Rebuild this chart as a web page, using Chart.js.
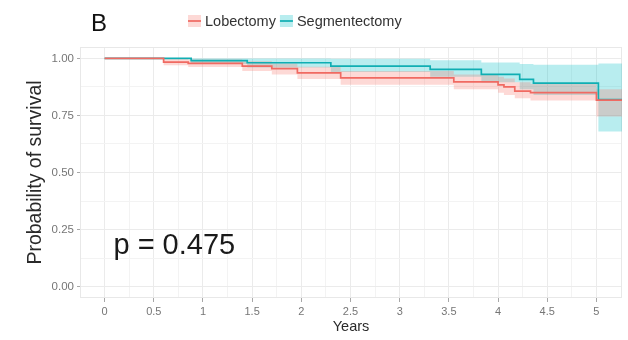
<!DOCTYPE html>
<html>
<head>
<meta charset="utf-8">
<script src="https://cdn.jsdelivr.net/npm/chart.js@4/dist/chart.umd.min.js"></script>
<style>
  html, body { margin: 0; padding: 0; background: #ffffff; }
  #km { display: block; }
</style>
</head>
<body>
<canvas id="km" width="628" height="340"></canvas>
<script>
// Kaplan-Meier estimates with 95% confidence bands, by resection type
const seriesNames = ['Lobectomy', 'Segmentectomy'];

const lobTime  = [0, 0.60, 0.85, 1.40, 1.70, 1.96, 2.40, 3.55, 4.00, 4.06, 4.17, 4.33, 5.00, 5.26];
const lobSurv  = [1, 0.984, 0.978, 0.966, 0.955, 0.937, 0.915, 0.897, 0.884, 0.875, 0.857, 0.850, 0.817, 0.817];
const lobLower = [1, 0.970, 0.962, 0.945, 0.930, 0.910, 0.885, 0.865, 0.850, 0.840, 0.825, 0.815, 0.745, 0.745];
const lobUpper = [1, 0.998, 0.995, 0.988, 0.978, 0.963, 0.945, 0.930, 0.920, 0.912, 0.895, 0.888, 0.865, 0.865];

const segTime  = [0, 0.88, 1.45, 2.30, 3.31, 3.83, 4.22, 4.36, 5.02, 5.26];
const segSurv  = [1, 0.990, 0.981, 0.966, 0.952, 0.930, 0.908, 0.892, 0.820, 0.820];
const segLower = [1, 0.975, 0.960, 0.940, 0.920, 0.895, 0.865, 0.840, 0.680, 0.680];
const segUpper = [1, 1.000, 1.000, 0.998, 0.992, 0.982, 0.975, 0.972, 0.978, 0.978];

const xTickValues = [0, 0.5, 1, 1.5, 2, 2.5, 3, 3.5, 4, 4.5, 5];
const xTickLabels = ['0', '0.5', '1', '1.5', '2', '2.5', '3', '3.5', '4', '4.5', '5'];
const yTickValues = [0, 0.25, 0.5, 0.75, 1];
const yTickLabels = ['0.00', '0.25', '0.50', '0.75', '1.00'];

const pValueText = 'p = 0.475';
const panelTag = 'B';

const lineColors = ['#f06a62', '#10aeb3'];
const bandColors = ['rgba(248,118,109,0.28)', 'rgba(0,191,196,0.28)'];

const pts = (xs, ys) => xs.map((t, i) => ({ x: t, y: ys[i] }));

// minor + major grid positions (every quarter step)
function gridList(min, max, step) {
  const out = [];
  for (let k = Math.ceil(min / step - 1e-9); k * step <= max + 1e-9; k++) out.push(k * step);
  return out;
}

const lineSet = (i, xs, ys) => ({
  label: seriesNames[i], data: pts(xs, ys), stepped: true,
  borderColor: lineColors[i], borderWidth: 1.7, pointRadius: 0, fill: false, order: 0
});
const bandSet = (i, xs, ys, fillTarget) => ({
  label: '', data: pts(xs, ys), stepped: true,
  borderWidth: 0, borderColor: 'transparent', backgroundColor: bandColors[i],
  pointRadius: 0, fill: fillTarget, order: 1
});

const decorations = {
  id: 'decorations',
  beforeDatasetsDraw(chart) {
    const { ctx, chartArea: a } = chart;
    ctx.save();
    ctx.strokeStyle = '#e8e8e8';
    ctx.lineWidth = 1;
    ctx.strokeRect(a.left + 0.5, a.top + 0.5, a.right - a.left - 1, a.bottom - a.top - 1);
    ctx.restore();
  },
  afterDraw(chart) {
    const { ctx } = chart;
    const xs = chart.scales.x, ys = chart.scales.y;
    ctx.save();
    // panel tag
    ctx.fillStyle = '#111';
    ctx.font = '24px "Liberation Sans", Arial, sans-serif';
    ctx.textBaseline = 'alphabetic';
    ctx.textAlign = 'left';
    ctx.fillText(panelTag, 91, 31);

    // legend
    ctx.font = '14.5px "Liberation Sans", Arial, sans-serif';
    ctx.textBaseline = 'middle';
    let x = 188;
    const yMid = 21;
    seriesNames.forEach((name, i) => {
      ctx.fillStyle = bandColors[i];
      ctx.fillRect(x, yMid - 6, 13, 12);
      ctx.strokeStyle = lineColors[i];
      ctx.lineWidth = 1.7;
      ctx.beginPath();
      ctx.moveTo(x, yMid); ctx.lineTo(x + 13, yMid);
      ctx.stroke();
      x += 17;
      ctx.fillStyle = '#333';
      ctx.fillText(name, x, yMid + 1);
      x += ctx.measureText(name).width + 4;
    });

    // log-rank p-value
    ctx.font = '29px "Liberation Sans", Arial, sans-serif';
    ctx.textBaseline = 'alphabetic';
    ctx.fillStyle = '#1a1a1a';
    ctx.fillText(pValueText, xs.getPixelForValue(0.09), ys.getPixelForValue(0.145));
    ctx.restore();
  }
};

const isMajorX = v => xTickValues.some(t => Math.abs(t - v) < 1e-9);
const isMajorY = v => yTickValues.some(t => Math.abs(t - v) < 1e-9);

new Chart(document.getElementById('km'), {
  type: 'line',
  data: {
    datasets: [
      lineSet(0, lobTime, lobSurv),
      lineSet(1, segTime, segSurv),
      bandSet(0, lobTime, lobUpper, '+1'),
      bandSet(0, lobTime, lobLower, false),
      bandSet(1, segTime, segUpper, '+1'),
      bandSet(1, segTime, segLower, false)
    ]
  },
  options: {
    responsive: false,
    devicePixelRatio: 1,
    animation: false,
    layout: { padding: { top: 47, right: 6, left: 0, bottom: 0 } },
    plugins: {
      legend: { display: false },
      tooltip: { enabled: false },
      title: { display: false }
    },
    scales: {
      x: {
        type: 'linear',
        min: -0.25,
        max: 5.26,
        afterBuildTicks: s => { s.ticks = gridList(-0.25, 5.26, 0.25).map(v => ({ value: v })); },
        afterFit: s => { s.height = 42; },
        ticks: {
          autoSkip: false,
          maxRotation: 0,
          padding: 3,
          color: '#767676',
          font: { size: 11, family: '"Liberation Sans", Arial, sans-serif' },
          callback: v => { const i = xTickValues.findIndex(t => Math.abs(t - v) < 1e-9); return i >= 0 ? xTickLabels[i] : ''; }
        },
        grid: {
          color: c => isMajorX(c.tick.value) ? '#ebebeb' : '#f3f3f3',
          tickColor: c => isMajorX(c.tick.value) ? '#a8a8a8' : 'rgba(0,0,0,0)',
          tickLength: 4,
          lineWidth: 1
        },
        border: { display: false },
        title: {
          display: true, text: 'Years', color: '#2a2a2a',
          font: { size: 14.5, family: '"Liberation Sans", Arial, sans-serif' },
          padding: { top: 0, bottom: 4 }
        }
      },
      y: {
        type: 'linear',
        min: -0.05,
        max: 1.05,
        afterBuildTicks: s => { s.ticks = gridList(0, 1, 0.125).map(v => ({ value: v })); },
        afterFit: s => { s.width = 80; },
        ticks: {
          autoSkip: false,
          padding: 3,
          color: '#767676',
          font: { size: 11.5, family: '"Liberation Sans", Arial, sans-serif' },
          callback: v => { const i = yTickValues.findIndex(t => Math.abs(t - v) < 1e-9); return i >= 0 ? yTickLabels[i] : ''; }
        },
        grid: {
          color: c => isMajorY(c.tick.value) ? '#ebebeb' : '#f3f3f3',
          tickColor: c => isMajorY(c.tick.value) ? '#a8a8a8' : 'rgba(0,0,0,0)',
          tickLength: 3,
          lineWidth: 1
        },
        border: { display: false },
        title: {
          display: true, text: 'Probability of survival', color: '#2a2a2a',
          font: { size: 19.5, family: '"Liberation Sans", Arial, sans-serif' },
          padding: { top: 24, bottom: 0 }
        }
      }
    }
  },
  plugins: [decorations]
});
</script>
</body>
</html>
